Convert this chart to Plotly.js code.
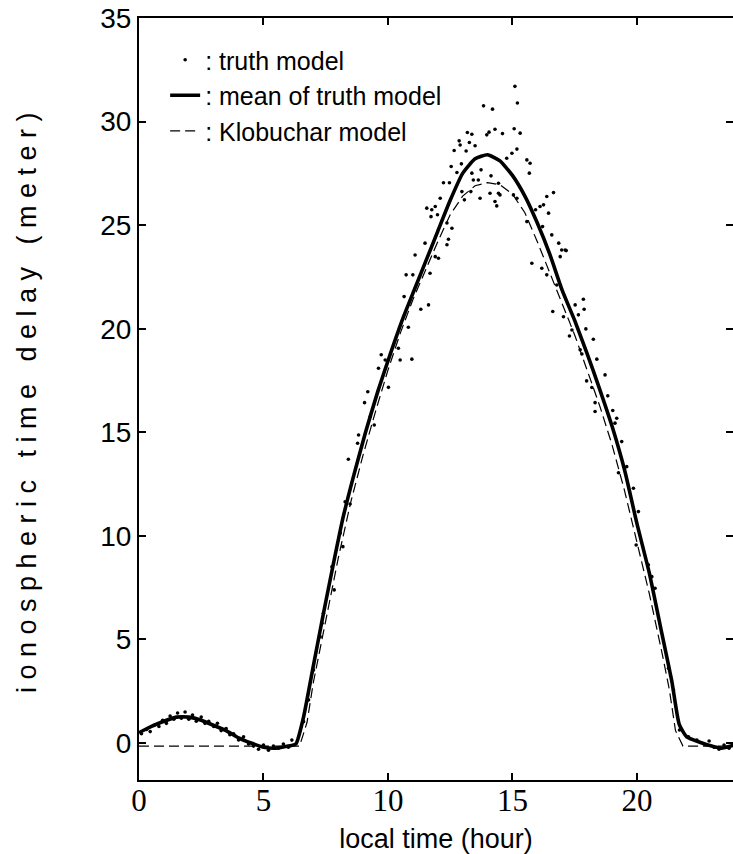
<!DOCTYPE html>
<html><head><meta charset="utf-8">
<script src="https://cdn.plot.ly/plotly-3.0.1.min.js"></script>
<style>
html,body{margin:0;padding:0;background:#fff;}
#chart{width:733px;height:854px;}
.ytitle{letter-spacing:7.5px;}
</style></head><body><div id="chart"></div>
<script>
// mean of truth model (thick solid)
const meanHour = [0, 0.5, 1, 1.5, 2, 2.5, 3, 3.5, 4, 4.5, 5, 5.5, 6, 6.3, 6.6, 7, 7.4, 7.8, 8.2, 8.6, 9.1, 9.6, 10.1, 10.6, 11.1, 11.5, 12, 12.5, 13, 13.5, 14, 14.5, 15, 15.5, 16, 16.5, 17, 17.5, 18, 18.5, 19, 19.5, 20, 20.5, 21, 21.4, 21.7, 22, 22.5, 23, 23.4, 23.9];
const meanDelay = [0.5, 0.8, 1.05, 1.25, 1.25, 1.1, 0.85, 0.6, 0.25, 0.0, -0.2, -0.25, -0.15, -0.05, 1.2, 3.7, 6.2, 8.6, 10.9, 12.8, 15.0, 17.0, 18.8, 20.5, 22.0, 23.2, 24.7, 26.2, 27.5, 28.2, 28.4, 28.1, 27.4, 26.4, 25.1, 23.6, 21.85, 20.4, 18.8, 17.1, 15.3, 13.2, 10.6, 8.2, 5.3, 3.0, 0.9, 0.3, 0.05, -0.15, -0.25, -0.1];

// Klobuchar model (dashed)
const klobHour = [0, 6.45, 6.75, 7, 7.5, 8, 8.5, 9, 9.5, 10, 10.5, 11, 11.5, 12, 12.5, 13, 13.5, 14, 14.5, 15, 15.5, 16, 16.5, 17, 17.5, 18, 18.5, 19, 19.5, 20, 20.5, 21, 21.3, 21.55, 21.85, 24];
const klobDelay = [-0.15, -0.15, 1.0, 2.9, 5.9, 8.9, 11.6, 13.9, 16.0, 18.0, 19.8, 21.4, 22.8, 24.2, 25.5, 26.4, 26.9, 27.05, 26.95, 26.5, 25.6, 24.2, 22.7, 21.2, 19.7, 18.0, 16.3, 14.4, 12.2, 9.7, 7.2, 4.4, 2.6, 0.6, -0.15, -0.15];

// truth model (dots)
const truthHour = [
 0.1,0.3,0.45,0.6,0.8,0.95,1.1,1.25,1.4,1.55,1.7,1.85,2.0,2.15,2.3,2.5,2.65,2.8,3.0,3.15,3.3,3.5,3.65,3.8,4.0,4.2,4.4,4.6,4.8,5.0,5.2,5.4,5.6,5.8,6.0,6.14,
 6.61,6.81,7.01,7.28,7.35,7.41,7.84,7.75,8.08,8.19,8.28,8.48,8.41,8.78,8.82,9.29,9.45,9.06,9.19,10.02,9.62,9.73,9.89,10.42,10.49,10.96,10.82,11.32,11.63,10.65,10.73,11.0,11.69,11.09,11.49,11.9,12.03,12.37,12.43,12.37,12.57,11.73,11.99,11.56,11.76,11.9,12.1,13.07,
 13.84,14.2,15.2,15.1,13.19,13.37,13.97,14.06,14.3,14.6,15.07,15.31,12.86,12.9,13.27,13.5,12.66,13.14,14.98,15.18,14.77,15.58,15.71,12.54,12.95,13.74,15.68,12.77,13.37,12.23,12.47,13.43,13.63,14.14,14.44,12.97,13.33,14.1,14.44,14.5,13.7,14.3,14.37,15.04,15.18,16.65,16.38,16.25,16.11,15.93,16.45,15.58,16.21,16.58,16.86,16.98,17.12,15.78,16.18,16.92,16.38,16.78,17.85,
 17.16,16.62,17.05,17.52,17.88,17.65,17.39,17.29,17.95,18.25,17.72,17.79,18.39,17.98,18.19,18.72,18.83,18.32,18.32,19.03,19.19,19.12,19.39,19.26,19.59,19.86,20.06,19.97,20.46,20.6,20.73,21.27,21.47,21.71,22.07,22.41,
 22.7,22.9,23.1,23.3,23.5,23.7];
const truthDelay = [
 0.45,0.65,0.55,0.85,0.8,1.1,0.95,1.3,1.15,1.45,1.2,1.5,1.15,1.35,1.05,1.25,0.95,1.05,0.8,0.95,0.6,0.7,0.4,0.45,0.15,0.3,-0.05,-0.15,-0.3,-0.1,-0.35,-0.15,-0.25,-0.05,-0.2,0.14,
 1.03,2.08,3.52,5.13,5.78,6.26,7.39,8.51,10.13,9.48,11.65,11.54,13.7,14.47,14.87,15.76,15.35,16.43,16.96,17.17,18.09,18.74,18.49,19.06,18.49,18.53,20.07,20.94,21.15,21.55,22.6,22.6,22.68,23.56,24.13,23.48,23.4,24.05,24.32,25.1,24.85,25.41,25.5,25.82,25.74,25.9,26.3,26.22,
 30.76,30.6,30.9,31.7,29.47,29.39,29.36,29.49,29.63,29.42,29.65,29.44,29.07,28.87,28.99,28.83,28.6,28.58,28.47,28.67,28.23,28.15,27.99,27.83,27.96,27.67,27.51,27.54,27.51,27.05,27.05,27.18,27.18,27.38,27.02,26.62,26.62,26.54,26.54,26.46,26.3,26.14,25.93,26.46,26.3,26.57,26.38,25.98,25.9,25.74,25.58,25.17,24.93,24.53,24.13,23.8,23.8,23.16,22.92,23.48,22.6,22.11,21.42,
 23.77,20.83,20.58,21.15,20.94,20.67,19.94,19.65,19.99,19.49,18.98,18.78,18.53,17.48,17.16,17.77,16.76,16.43,16.0,16.05,15.68,15.44,14.55,13.05,13.34,12.3,11.17,9.56,8.6,8.03,7.47,3.61,2.56,0.63,0.3,0.14,
 -0.05,0.1,-0.2,-0.3,-0.1,-0.25];

const xTickVals = [0, 5, 10, 15, 20];
const xTickText = ['0', '5', '10', '15', '20'];
const yTickVals = [0, 5, 10, 15, 20, 25, 30, 35];
const yTickText = ['0', '5', '10', '15', '20', '25', '30', '35'];

const traces = [
  {x: truthHour, y: truthDelay, type: 'scatter', mode: 'markers', name: ': truth model',
   marker: {color: '#000', size: 3.6}, legendgroup: 'a'},
  {x: meanHour, y: meanDelay, type: 'scatter', mode: 'lines', name: ': mean of truth model',
   line: {color: '#000', width: 3.6, shape: 'spline', smoothing: 0.5}, legendgroup: 'b'},
  {x: klobHour, y: klobDelay, type: 'scatter', mode: 'lines', name: ': Klobuchar model', yaxis: 'y2',
   line: {color: '#000', width: 1.2, dash: '10px,5px', shape: 'linear'}, legendgroup: 'c'}
];

const yRange = [-1.786, 35];
const layout = {
  width: 733, height: 854,
  margin: {l: 139, r: 0, t: 18, b: 74, pad: 0},
  paper_bgcolor: '#fff', plot_bgcolor: '#fff',
  showlegend: true,
  legend: {x: 0.044, y: 0.975, xanchor: 'left', yanchor: 'top', bgcolor: 'rgba(0,0,0,0)',
    font: {family: 'Liberation Sans, Arial, sans-serif', size: 25, color: '#000'},
    traceorder: 'grouped', tracegroupgap: 0, itemwidth: 30},
  xaxis: {range: [0, 23.86], tickmode: 'array', tickvals: xTickVals, ticktext: xTickText,
    ticks: 'inside', ticklen: 7, tickwidth: 2, tickcolor: '#000',
    showline: true, linecolor: '#000', linewidth: 2, mirror: 'ticks',
    showgrid: false, zeroline: false, ticklabelstandoff: -8,
    tickfont: {family: 'Liberation Serif, Times New Roman, serif', size: 31, color: '#000'},
    title: {text: 'local time (hour)', standoff: 22,
      font: {family: 'Liberation Sans, Arial, sans-serif', size: 27, color: '#000'}}},
  yaxis: {range: yRange, tickmode: 'array', tickvals: yTickVals, ticktext: yTickText,
    ticks: 'inside', ticklen: 7, tickwidth: 2, tickcolor: '#000',
    showline: true, linecolor: '#000', linewidth: 2,
    showgrid: false, zeroline: false,
    tickfont: {family: 'Liberation Sans, Arial, sans-serif', size: 28, color: '#000'},
    title: {text: 'ionospheric time delay (meter)', standoff: 56,
      font: {family: 'Liberation Sans, Arial, sans-serif', size: 27, color: '#000'}}},
  yaxis2: {range: yRange, overlaying: 'y', side: 'right', tickmode: 'array', tickvals: yTickVals,
    ticks: 'inside', ticklen: 7, tickwidth: 2, tickcolor: '#000',
    showticklabels: false, showline: false, showgrid: false, zeroline: false}
};

Plotly.newPlot('chart', traces, layout, {displayModeBar: false, staticPlot: true});
</script>
</body></html>
